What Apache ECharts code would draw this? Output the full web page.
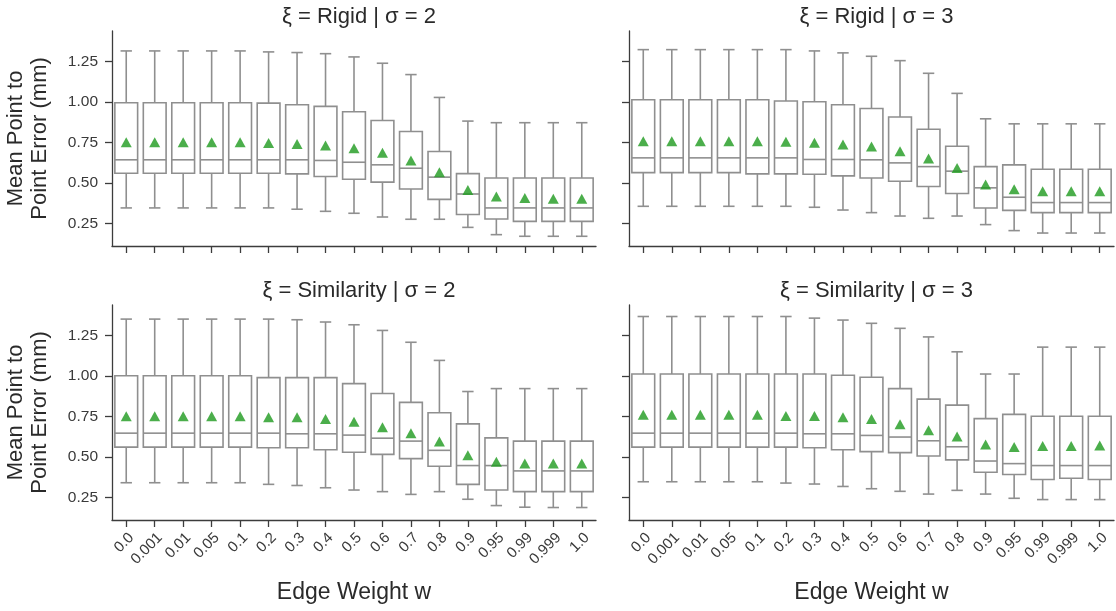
<!DOCTYPE html>
<html>
<head>
<meta charset="utf-8">
<script src="https://cdn.jsdelivr.net/npm/echarts@6/dist/echarts.min.js"></script>
<style>
html,body{margin:0;padding:0;background:#fff;}
#chart{width:1116px;height:611px;}
</style>
</head>
<body>
<div id="chart"></div>
<script>
// ---- categories & ticks ----
const categories = ['0.0','0.001','0.01','0.05','0.1','0.2','0.3','0.4','0.5','0.6','0.7','0.8','0.9','0.95','0.99','0.999','1.0'];
const yTicks = [0.25, 0.50, 0.75, 1.00, 1.25];
const panelTitles = ['ξ = Rigid | σ = 2', 'ξ = Rigid | σ = 3', 'ξ = Similarity | σ = 2', 'ξ = Similarity | σ = 3'];

// ---- Rigid, sigma = 2 ----
const rigid2_low  = [0.345,0.345,0.345,0.345,0.345,0.345,0.337,0.324,0.312,0.289,0.275,0.275,0.225,0.180,0.170,0.170,0.170];
const rigid2_q1   = [0.559,0.559,0.559,0.559,0.559,0.559,0.555,0.539,0.522,0.504,0.462,0.398,0.304,0.277,0.262,0.262,0.262];
const rigid2_med  = [0.642,0.642,0.642,0.642,0.642,0.642,0.642,0.638,0.627,0.611,0.590,0.535,0.431,0.345,0.345,0.345,0.345];
const rigid2_q3   = [0.994,0.994,0.994,0.994,0.994,0.992,0.982,0.972,0.939,0.885,0.817,0.693,0.557,0.530,0.530,0.530,0.530];
const rigid2_high = [1.314,1.314,1.314,1.314,1.314,1.308,1.304,1.297,1.277,1.238,1.168,1.027,0.881,0.871,0.871,0.871,0.871];
const rigid2_mean = [0.750,0.750,0.750,0.750,0.750,0.745,0.740,0.730,0.714,0.685,0.638,0.565,0.456,0.415,0.407,0.402,0.402];

// ---- Rigid, sigma = 3 ----
const rigid3_low  = [0.355,0.355,0.355,0.355,0.355,0.355,0.349,0.332,0.316,0.295,0.281,0.295,0.242,0.205,0.190,0.190,0.190];
const rigid3_q1   = [0.563,0.563,0.563,0.563,0.555,0.555,0.553,0.543,0.530,0.510,0.477,0.434,0.345,0.330,0.316,0.316,0.316];
const rigid3_med  = [0.654,0.654,0.654,0.654,0.654,0.654,0.644,0.644,0.642,0.623,0.600,0.572,0.469,0.411,0.378,0.378,0.378];
const rigid3_q3   = [1.013,1.013,1.013,1.013,1.013,1.005,1.000,0.982,0.959,0.906,0.831,0.726,0.600,0.611,0.584,0.584,0.584];
const rigid3_high = [1.322,1.322,1.322,1.322,1.322,1.322,1.314,1.302,1.281,1.254,1.176,1.052,0.895,0.864,0.864,0.864,0.864];
const rigid3_mean = [0.757,0.757,0.757,0.757,0.757,0.753,0.747,0.737,0.724,0.695,0.650,0.592,0.489,0.460,0.448,0.448,0.448];

// ---- Similarity, sigma = 2 ----
const sim2_low  = [0.340,0.340,0.340,0.340,0.340,0.330,0.323,0.309,0.295,0.285,0.268,0.285,0.238,0.199,0.189,0.187,0.187];
const sim2_q1   = [0.560,0.560,0.560,0.560,0.560,0.556,0.556,0.544,0.528,0.515,0.489,0.442,0.330,0.295,0.285,0.285,0.285];
const sim2_med  = [0.646,0.646,0.646,0.646,0.646,0.646,0.642,0.642,0.634,0.615,0.597,0.540,0.446,0.446,0.413,0.413,0.413];
const sim2_q3   = [1.000,1.000,1.000,1.000,1.000,0.989,0.989,0.989,0.952,0.891,0.836,0.772,0.703,0.617,0.597,0.597,0.597];
const sim2_high = [1.350,1.350,1.350,1.350,1.350,1.350,1.346,1.332,1.315,1.280,1.207,1.095,0.903,0.921,0.921,0.921,0.921];
const sim2_mean = [0.750,0.750,0.750,0.750,0.750,0.744,0.744,0.734,0.717,0.683,0.646,0.595,0.509,0.470,0.458,0.458,0.458];

// ---- Similarity, sigma = 3 ----
const sim3_low  = [0.346,0.346,0.346,0.346,0.346,0.338,0.332,0.317,0.303,0.287,0.270,0.293,0.270,0.244,0.236,0.236,0.236];
const sim3_q1   = [0.560,0.560,0.560,0.560,0.560,0.560,0.556,0.544,0.532,0.526,0.505,0.481,0.405,0.391,0.360,0.368,0.360];
const sim3_med  = [0.646,0.646,0.646,0.646,0.646,0.646,0.642,0.642,0.632,0.622,0.599,0.562,0.474,0.458,0.446,0.446,0.446];
const sim3_q3   = [1.011,1.011,1.011,1.011,1.011,1.011,1.011,1.003,0.991,0.921,0.856,0.819,0.736,0.762,0.750,0.750,0.750];
const sim3_high = [1.366,1.366,1.366,1.366,1.366,1.366,1.356,1.344,1.324,1.293,1.240,1.148,1.011,1.011,1.177,1.177,1.177];
const sim3_mean = [0.760,0.760,0.760,0.760,0.760,0.752,0.752,0.744,0.734,0.701,0.664,0.626,0.576,0.560,0.566,0.566,0.570];

const panels = [
  {low: rigid2_low, q1: rigid2_q1, med: rigid2_med, q3: rigid2_q3, high: rigid2_high, mean: rigid2_mean},
  {low: rigid3_low, q1: rigid3_q1, med: rigid3_med, q3: rigid3_q3, high: rigid3_high, mean: rigid3_mean},
  {low: sim2_low, q1: sim2_q1, med: sim2_med, q3: sim2_q3, high: sim2_high, mean: sim2_mean},
  {low: sim3_low, q1: sim3_q1, med: sim3_med, q3: sim3_q3, high: sim3_high, mean: sim3_mean}
];

// ---- layout / style ----
const FONT = 'Liberation Sans, Arial, sans-serif';
const boxColor = '#8f8f8f';
const axisColor = '#3c3c3c';
const textColor = '#3a3a3a';
const meanColor = '#1e9a1e';
const grids = [
  {left: 112, top: 31, width: 484, height: 215},
  {left: 629, top: 31, width: 485, height: 215},
  {left: 112, top: 305, width: 484, height: 215},
  {left: 629, top: 305, width: 485, height: 215}
];
const yMin = 0.11, yMax = 1.437;

function renderBox(params, api) {
  const x = api.value(0);
  const pLow = api.coord([x, api.value(1)]);
  const pQ1 = api.coord([x, api.value(2)]);
  const pMed = api.coord([x, api.value(3)]);
  const pQ3 = api.coord([x, api.value(4)]);
  const pHigh = api.coord([x, api.value(5)]);
  const band = api.size([1, 0])[0];
  const bw = band * 0.8;
  const cw = bw / 2;
  const cx = pLow[0];
  const ls = {stroke: boxColor, lineWidth: 1.6, fill: null};
  return {
    type: 'group',
    children: [
      {type: 'line', shape: {x1: cx, y1: pQ3[1], x2: cx, y2: pHigh[1]}, style: ls},
      {type: 'line', shape: {x1: cx, y1: pQ1[1], x2: cx, y2: pLow[1]}, style: ls},
      {type: 'line', shape: {x1: cx - cw / 2, y1: pHigh[1], x2: cx + cw / 2, y2: pHigh[1]}, style: ls},
      {type: 'line', shape: {x1: cx - cw / 2, y1: pLow[1], x2: cx + cw / 2, y2: pLow[1]}, style: ls},
      {type: 'rect', shape: {x: cx - bw / 2, y: pQ3[1], width: bw, height: pQ1[1] - pQ3[1]}, style: {stroke: boxColor, lineWidth: 1.6, fill: '#ffffff'}},
      {type: 'line', shape: {x1: cx - bw / 2, y1: pMed[1], x2: cx + bw / 2, y2: pMed[1]}, style: ls}
    ]
  };
}

const titles = [], xAxes = [], yAxes = [], series = [];
grids.forEach((g, i) => {
  const isBottom = i >= 2, isLeft = i % 2 === 0;
  titles.push({
    text: panelTitles[i],
    left: g.left + g.width / 2,
    top: g.top - 30,
    textAlign: 'center',
    textStyle: {fontFamily: FONT, fontSize: 22, fontWeight: 'normal', color: '#2a2a2a'}
  });
  xAxes.push({
    type: 'category', gridIndex: i, data: categories, boundaryGap: true,
    axisLine: {show: true, lineStyle: {color: axisColor, width: 1.3}},
    axisTick: {show: true, alignWithLabel: true, length: 7, lineStyle: {color: axisColor, width: 1.3}},
    axisLabel: {show: isBottom, rotate: 45, interval: 0, fontSize: 15, color: textColor, fontFamily: FONT, margin: 10,
                verticalAlign: 'top'},
    splitLine: {show: false},
    name: isBottom ? 'Edge Weight w' : '', nameLocation: 'middle', nameGap: 61,
    nameTextStyle: {fontFamily: FONT, fontSize: 23, color: '#2a2a2a'}
  });
  yAxes.push({
    type: 'value', gridIndex: i, min: yMin, max: yMax,
    axisLine: {show: true, lineStyle: {color: axisColor, width: 1.3}},
    axisTick: {show: true, length: 7, customValues: yTicks, lineStyle: {color: axisColor, width: 1.3}},
    axisLabel: {show: isLeft, customValues: yTicks, fontSize: 15.5, color: textColor, fontFamily: FONT, margin: 14,
                formatter: v => v.toFixed(2)},
    splitLine: {show: false},
    name: isLeft ? 'Mean Point to\nPoint Error (mm)' : '', nameLocation: 'middle', nameGap: 60, nameRotate: 90,
    nameTextStyle: {fontFamily: FONT, fontSize: 22, color: '#2a2a2a', lineHeight: 24}
  });
  const p = panels[i];
  series.push({
    type: 'custom', xAxisIndex: i, yAxisIndex: i,
    renderItem: renderBox,
    encode: {x: 0, y: [1, 2, 3, 4, 5]},
    data: categories.map((c, k) => [k, p.low[k], p.q1[k], p.med[k], p.q3[k], p.high[k]]),
    z: 2, silent: true
  });
  series.push({
    type: 'scatter', xAxisIndex: i, yAxisIndex: i,
    symbol: 'triangle', symbolSize: [11, 10],
    itemStyle: {color: meanColor},
    data: categories.map((c, k) => [k, p.mean[k]]),
    z: 5, silent: true
  });
});

const chart = echarts.init(document.getElementById('chart'), null, {renderer: 'canvas'});
chart.setOption({
  backgroundColor: '#ffffff',
  animation: false,
  title: titles,
  grid: grids,
  xAxis: xAxes,
  yAxis: yAxes,
  series: series
});
</script>
</body>
</html>
